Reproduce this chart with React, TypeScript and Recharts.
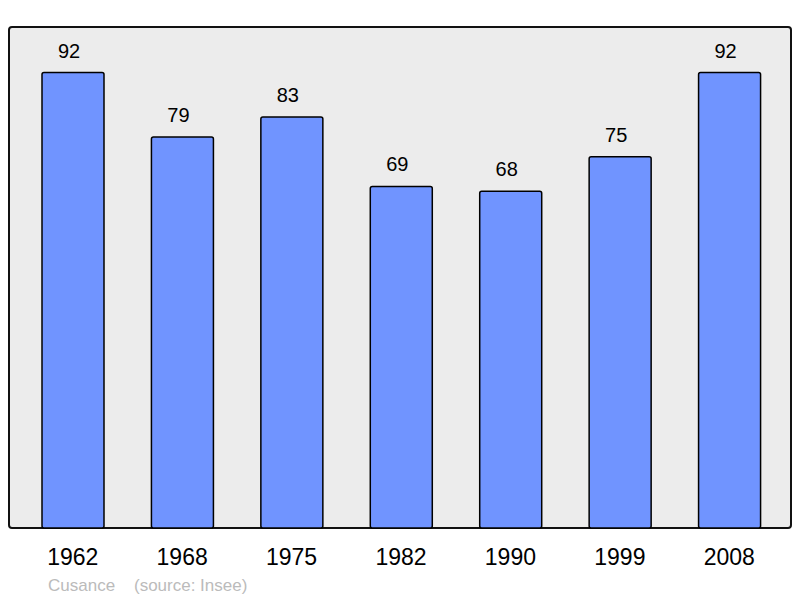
import { BarChart, Bar, XAxis, YAxis, LabelList } from 'recharts'

const years = ['1962', '1968', '1975', '1982', '1990', '1999', '2008']
const population = [92, 79, 83, 69, 68, 75, 92]
const commune = 'Cusance'
const source = '(source: Insee)'

const data = years.map((year, i) => ({ year, value: population[i] }))
const yMax = Math.max(...population) * 1.1

export default function App() {
  return (
    <div
      style={{
        position: 'absolute',
        left: 0,
        top: 0,
        width: 800,
        height: 598,
        background: '#fff',
        fontFamily: '"Liberation Sans", Arial, sans-serif',
      }}
    >
      {/* plot frame */}
      <div
        style={{
          position: 'absolute',
          left: 8,
          top: 26,
          width: 780,
          height: 499,
          border: '2px solid #111',
          borderRadius: 4,
          background: '#ececec',
        }}
      />
      <div style={{ position: 'absolute', left: 0, top: 0 }}>
        <BarChart
          width={800}
          height={598}
          data={data}
          margin={{ top: 27, right: 16, left: 18, bottom: 0 }}
          barSize={62}
        >
          <XAxis
            dataKey="year"
            height={70}
            axisLine={false}
            tickLine={false}
            tick={{ fontSize: 23, fill: '#000' }}
            tickMargin={15}
          />
          <YAxis hide domain={[0, yMax]} />
          <Bar
            dataKey="value"
            fill="#7094ff"
            stroke="#000"
            strokeWidth={1.5}
            radius={2}
            isAnimationActive={false}
          >
            <LabelList
              dataKey="value"
              position="top"
              offset={15}
              fontSize={20}
              fill="#000"
              dx={-4}
            />
          </Bar>
        </BarChart>
      </div>
      <div
        style={{
          position: 'absolute',
          left: 48,
          top: 576,
          fontSize: 17,
          color: '#bbb',
          whiteSpace: 'pre',
        }}
      >
        {commune + '    ' + source}
      </div>
    </div>
  )
}
